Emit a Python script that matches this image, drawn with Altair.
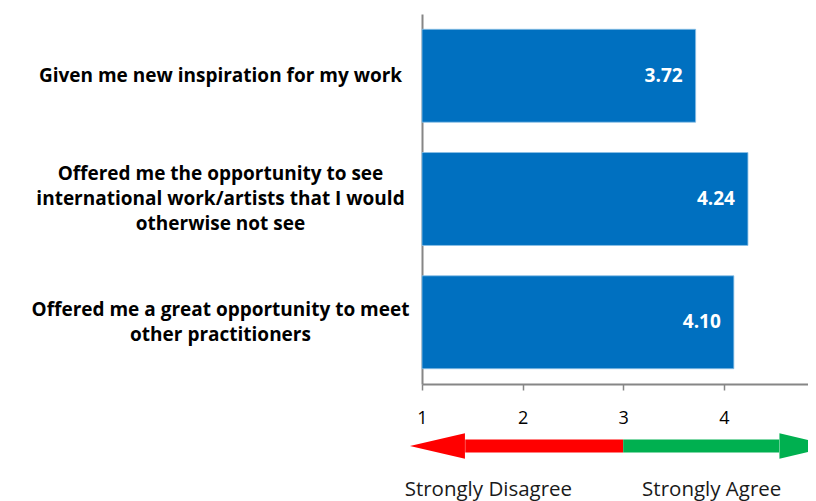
import altair as alt
import pandas as pd

# --- data ---
statements = [
    "Given me new inspiration for my work",
    "Offered me the opportunity to see|international work/artists that I would|otherwise not see",
    "Offered me a great opportunity to meet|other practitioners",
]
scores = [3.72, 4.24, 4.10]
tick_values = [1, 2, 3, 4]
x_domain = [1, 4.837]  # the scale 1..5 is cut off at the right edge of the picture
scale_labels = ["Strongly Disagree", "Strongly Agree"]
scale_label_pos = [1.66, 3.88]

FONT = "Open Sans"
BLUE = "#0070C0"
GREY = "#868686"

df = pd.DataFrame({"statement": statements, "score": scores})

xscale = alt.Scale(domain=x_domain, nice=False, zero=False)

base = alt.Chart(df).encode(
    y=alt.Y(
        "statement:N",
        sort=statements,
        scale=alt.Scale(paddingInner=0.246, paddingOuter=0.124),
        axis=alt.Axis(
            title=None,
            ticks=False,
            domainColor=GREY,
            domainWidth=2,
            labelFont=FONT,
            labelFontWeight="bold",
            labelFontSize=19,
            labelColor="#000000",
            labelAlign="center",
            labelBaseline="middle",
            labelPadding=202,
            labelLineHeight=25,
            labelLimit=0,
            labelOffset=alt.ExprRef("-(length(split(datum.value, '|')) - 1) * 12.5"),
            labelExpr="split(datum.label, '|')",
        ),
    )
)

xaxis = alt.Axis(
    title=None,
    values=tick_values,
    format="d",
    grid=False,
    domainColor=GREY,
    domainWidth=2,
    tickColor=GREY,
    tickWidth=1.5,
    tickSize=6,
    labelFont=FONT,
    labelFontSize=18,
    labelColor="#000000",
    labelPadding=19,
    labelFlush=False,
)

bars = base.mark_bar(color=BLUE, stroke="#8CC0E6", strokeWidth=0.8).encode(
    x=alt.X("score:Q", scale=xscale, axis=xaxis),
    x2=alt.datum(1),
)

labels = base.mark_text(
    align="right", dx=-13, color="white", font=FONT, fontWeight="bold", fontSize=19
).encode(x=alt.X("score:Q", scale=xscale, axis=xaxis), text=alt.Text("score:Q", format=".2f"))

# --- arrow below the axis ---
arrow_df = pd.DataFrame(
    {
        "start": [3.0, 3.0],
        "end": [1.43, 4.55],
        "tip": [0.88, 5.1],
        "color": ["#FF0000", "#00B050"],
        "shape": ["M0,0L1,-0.23L1,0.23Z", "M0,0L-1,-0.23L-1,0.23Z"],
        "row": ["arrow", "arrow"],
    }
)
lab_df = pd.DataFrame({"text": scale_labels, "pos": scale_label_pos, "row": ["label", "label"]})

yrow = alt.Y(
    "row:N",
    scale=alt.Scale(domain=["arrow", "label"], range=[410, 498], paddingInner=0, paddingOuter=0),
    axis=None,
)

shafts = alt.Chart(arrow_df).mark_rule(strokeWidth=13, strokeCap="butt").encode(
    x=alt.X("start:Q", scale=xscale, axis=xaxis),
    x2="end:Q",
    y=yrow,
    color=alt.Color("color:N", scale=None),
)
heads = alt.Chart(arrow_df).mark_point(filled=True, opacity=1, size=12100, strokeWidth=0).encode(
    x=alt.X("tip:Q", scale=xscale, axis=xaxis),
    y=yrow,
    color=alt.Color("color:N", scale=None),
    shape=alt.Shape("shape:N", scale=None),
)
scale_text = alt.Chart(lab_df).mark_text(font=FONT, fontSize=20.5, color="#1a1a1a").encode(
    x=alt.X("pos:Q", scale=xscale, axis=xaxis), y=yrow, text="text:N"
)

chart = (
    alt.layer(bars + labels, shafts + heads + scale_text)
    .resolve_scale(y="independent")
    .properties(
        width=386,
        height=370,
        autosize=alt.AutoSizeParams(type="none"),
        padding={"left": 414, "top": 6, "right": 0, "bottom": 117},
    )
    .configure_view(stroke=None)
)

chart.save("out.html", embed_options={"renderer": "svg", "actions": False})
